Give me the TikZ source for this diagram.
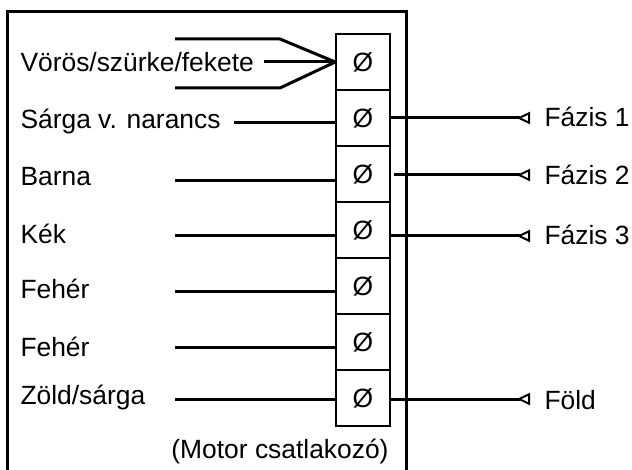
\documentclass[tikz,border=0pt]{standalone}
\usepackage{fontspec}
\setmainfont{Liberation Sans}
\usetikzlibrary{arrows.meta}
\begin{document}
\begin{tikzpicture}[
        x = 0.75pt, y = -0.75pt,
        line width = 2.25pt,
        font = \fontsize{19.8}{24}\selectfont,
        cell/.style = {draw, line width = 1.2pt, minimum width = 40.5pt, minimum height = 42pt, inner sep = 0pt},
        lbl/.style = {anchor = base west, inner sep = 0pt},
        tip/.style = {-{Triangle[open, reversed, length = 10pt, width = 9pt, line width = 1.5pt]}}
    ]
    \useasboundingbox (0,0) rectangle (632,470);
    \draw (7,470) -- (7,12) -- (406,12) -- (406,470);
    \foreach \i in {1,...,7}
        \node[cell] (t\i) at (363, 6 + 56*\i) {Ø};
    \node[lbl] (l1) at (19,72) {Vörös/szürke/fekete};
    \node[lbl] (l2) at (19,129) {Sárga v. narancs};
    \node[lbl] (l3) at (19,186) {Barna};
    \node[lbl] (l4) at (19,244) {Kék};
    \node[lbl] (l5) at (19,299) {Fehér};
    \node[lbl] (l6) at (19,356) {Fehér};
    \node[lbl] (l7) at (19,404) {Zöld/sárga};
    \node[anchor = base, inner sep = 0pt] (mc) at (280,458) {(Motor csatlakozó)};
    \coordinate (a1) at (175,39);
    \coordinate (b1) at (280,39);
    \coordinate (a2) at (175,88);
    \coordinate (b2) at (280,88);
    \coordinate (a3) at (264,62);
    \draw (a1) -- (b1) -- (t1.west);
    \draw (a3) -- (t1.west);
    \draw (a2) -- (b2) -- (t1.west);
    \foreach \i/\x/\y in {2/234/123, 3/175/181, 4/175/236, 5/175/292, 6/175/348, 7/175/399} {
        \coordinate (w\i) at (\x,\y);
        \draw (w\i) -- (w\i -| t\i.west);
    }
    \foreach \i/\y/\s/\b/\name in {2/118/0/127/Fázis 1, 3/175/3/185/Fázis 2, 4/236/0/245/Fázis 3, 7/399/0/409/Föld} {
        \coordinate (e\i) at (530,\y);
        \node[lbl] (p\i) at (543,\b) {\name};
        \draw[tip] ([xshift = \s*0.75pt] e\i -| t\i.east) -- (e\i);
    }
\end{tikzpicture}
\end{document}
